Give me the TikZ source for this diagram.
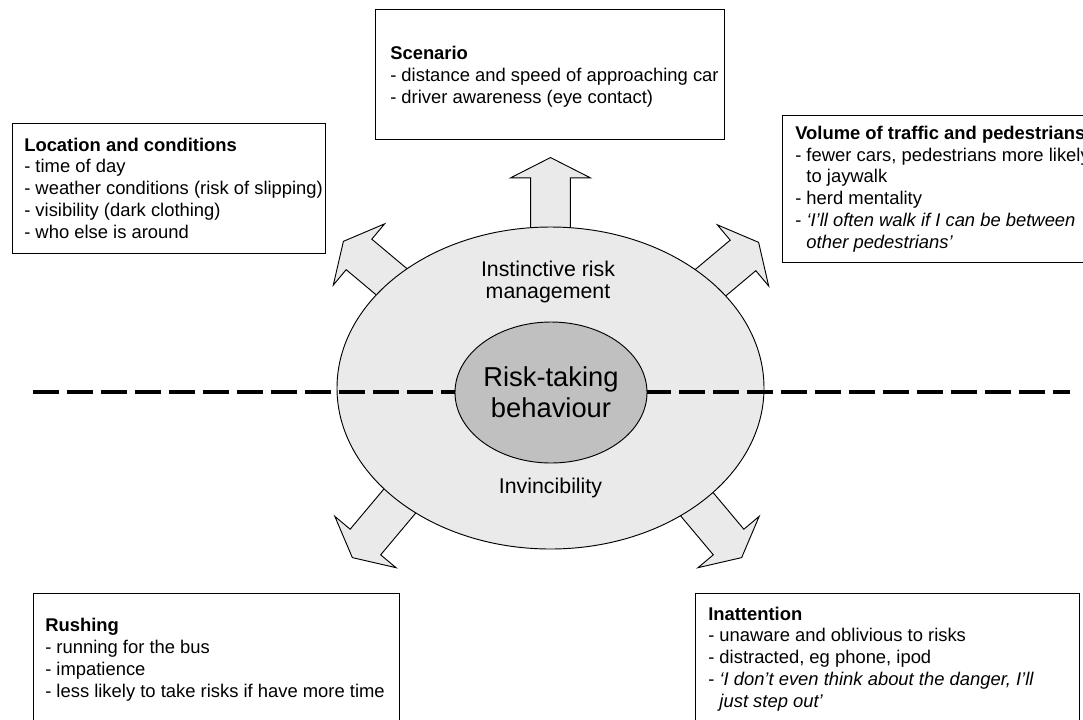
\documentclass[tikz,border=0pt]{standalone}
\usepackage{fontspec}
\setmainfont{Liberation Sans}
\usetikzlibrary{shapes.geometric,shapes.arrows,positioning}

\definecolor{lightfill}{RGB}{234,234,234}
\definecolor{corefill}{RGB}{192,192,192}
\newcommand{\hangdash}{\hspace*{.61em}}

\begin{document}
\begin{tikzpicture}[x=0.75pt,y=-0.75pt,
  frame/.style={draw,fill=white,line width=0.7pt,inner sep=0pt},
  boxtext/.style={align=left,inner sep=0pt,anchor=base west,font=\fontsize{13.8}{16.3}\selectfont},
  blockarrow/.style={single arrow,draw,fill=lightfill,line width=0.7pt,inner xsep=0pt,inner ysep=14.6pt,
    minimum height=82.5pt,single arrow head extend=15pt,
    single arrow tip angle=126,anchor=tip},
  dashline/.style={line width=3.2pt,dash pattern=on 19.5pt off 6pt}]

% Picture area
\clip (0,0) rectangle (1083,719);

% Define points
\coordinate (dl) at (33,392);      % left end of dashed line
\coordinate (dr) at (1070,392);    % right end of dashed line

% Block arrows (under the big ellipse)
\node[blockarrow,rotate=90]  (aup) at (550.5,157) {};
\node[blockarrow,rotate=140] (aul) at (343,241) {};
\node[blockarrow,rotate=40]  (aur) at (759,242) {};
\node[blockarrow,rotate=230] (all) at (352,558) {};
\node[blockarrow,rotate=-50] (alr) at (742,558) {};

% Ellipses and the dashed line
\node[ellipse,draw,fill=lightfill,line width=0.7pt,minimum width=320.25pt,minimum height=241.5pt] (outer) at (550.5,388) {};
\draw[dashline] (dl) -- (dr);
\node[ellipse,draw,fill=corefill,line width=0.7pt,minimum width=144pt,minimum height=105.75pt,
  inner sep=0pt,align=center,font=\fontsize{20.5}{23.25}\selectfont] (core) at (551,392.5) {Risk-taking\\behaviour};

\node[align=center,inner sep=0pt,font=\fontsize{16}{16.5}\selectfont] (instinct) at (548,281.5) {Instinctive risk\\management};
\node[inner sep=0pt,font=\fontsize{16}{16.5}\selectfont] (invinc) at (550.5,487.5) {Invincibility};

% Boxes
\node[frame,minimum width=261.75pt,minimum height=97.5pt] (scenbox) at (549.5,74) {};
\node[frame,minimum width=234.75pt,minimum height=97.5pt] (locbox) at (168.5,188) {};
\node[frame,minimum width=238.5pt,minimum height=110.25pt] (volbox) at (941,188.5) {};
\node[frame,minimum width=274.5pt,minimum height=110.25pt] (rushbox) at (216,666.5) {};
\node[frame,minimum width=288pt,minimum height=110.25pt] (inatbox) at (887,666.5) {};

% Box texts (anchored at the last line)
\node[boxtext] (scentext) at (390,103) {\textbf{Scenario}\\- distance and speed of approaching car\\- driver awareness (eye contact)};
\node[boxtext] (loctext) at (24,238) {\textbf{Location and conditions}\\- time of day\\- weather conditions (risk of slipping)\\- visibility (dark clothing)\\- who else is around};
\node[boxtext] (voltext) at (795,248) {\textbf{Volume of traffic and pedestrians}\\- fewer cars, pedestrians more likely\\\hangdash to jaywalk\\- herd mentality\\- \textit{‘I’ll often walk if I can be between}\\\hangdash\textit{other pedestrians’}};
\node[boxtext] (rushtext) at (45,697) {\textbf{Rushing}\\- running for the bus\\- impatience\\- less likely to take risks if have more time};
\node[boxtext] (inattext) at (708,707) {\textbf{Inattention}\\- unaware and oblivious to risks\\- distracted, eg phone, ipod\\- \textit{‘I don’t even think about the danger, I’ll}\\\hangdash\textit{just step out’}};

\end{tikzpicture}
\end{document}
